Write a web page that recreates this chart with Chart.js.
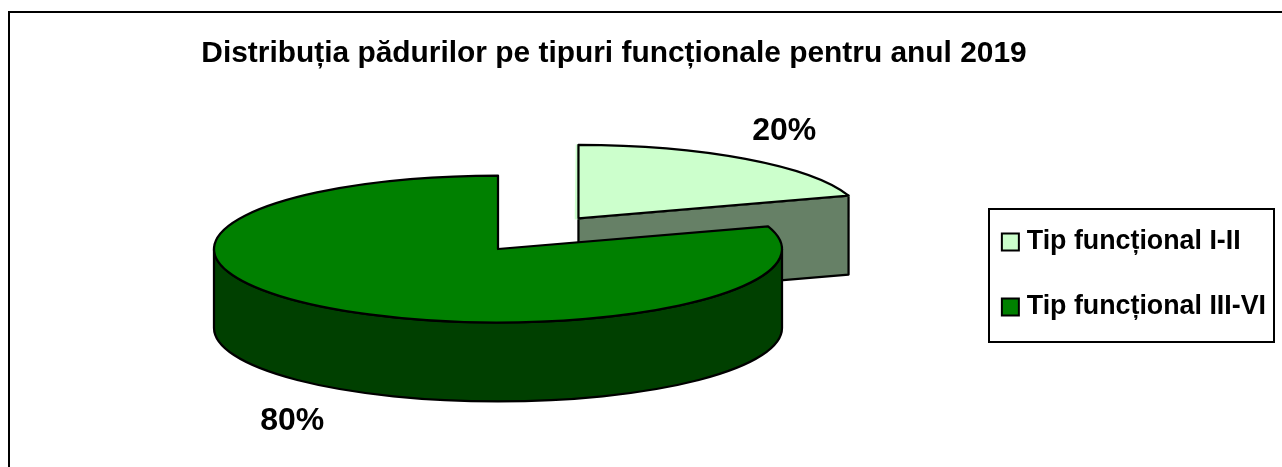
<!DOCTYPE html>
<html lang="ro">
<head>
<meta charset="utf-8">
<style>html,body{margin:0;padding:0;background:#fff}#w{position:relative;width:1282px;height:467px;overflow:hidden}</style>
<script src="https://cdn.jsdelivr.net/npm/chart.js@4/dist/chart.umd.min.js"></script>
</head>
<body>
<div id="w"><canvas id="c"></canvas></div>
<script>
const categories = ['Tip funcțional I-II', 'Tip funcțional III-VI'];
const shares = [20, 80];
const titleText = 'Distribuția pădurilor pe tipuri funcționale pentru anul 2019';

const topColors = ['#CCFFCC', '#008000'];
const wallColors = ['#668066', '#004000'];
const FONT = '"Liberation Sans", Arial, sans-serif';

const pieCentre = {x: 498, y: 249};
const squash = 0.2588;
const depth = 79;
const radiusPx = 284;
const explode = 522;
const explodeLift = 8;
const labelReach = {x: 1.233, y: 1.52};
const labelDrop = 3;
const outline = 2.25;
const legendFrame = {x: 989, y: 209, w: 285, h: 133};

function geometry(chart, arc) {
  const p = arc.getProps(['x', 'y', 'startAngle', 'endAngle', 'outerRadius', 'circumference']);
  const half = (p.startAngle + p.endAngle) / 2;
  const off = (arc.options.offset || 0) / 4;
  const fix = 1 - Math.sin(Math.min(Math.PI, p.circumference));
  const d = off * (1 + fix);
  const area = chart.chartArea;
  const x0 = (area.left + area.right) / 2, y0 = (area.top + area.bottom) / 2;
  return {
    cx: pieCentre.x + p.x - x0 + Math.cos(half) * d,
    cy: pieCentre.y + (p.y - y0 + Math.sin(half) * d) * squash,
    rx: p.outerRadius,
    ry: p.outerRadius * squash,
    a0: p.startAngle, a1: p.endAngle, half
  };
}

const pie3d = {
  id: 'pie3d',
  beforeDraw(chart) {
    const c = chart.ctx;
    c.save();
    c.fillStyle = '#fff';
    c.fillRect(0, 0, chart.width, chart.height);
    c.strokeStyle = '#000';
    c.lineWidth = 2;
    c.strokeRect(9, 12, chart.width + 40, chart.height + 40);
    c.strokeRect(legendFrame.x, legendFrame.y, legendFrame.w, legendFrame.h);
    c.restore();
  },
  afterLayout(chart) {
    const t = chart.titleBlock;
    t.left = 114; t.right = 1114;
    const h = t.bottom - t.top;
    t.top = 54 - h / 2; t.bottom = t.top + h;
    const l = chart.legend;
    const w = l.width, lh = l.height;
    l.left = 969.17; l.right = l.left + w;
    l.top = 190.33; l.bottom = l.top + lh + 60;
  },
  afterDatasetsUpdate(chart) {
    chart.getDatasetMeta(0).data[0].y -= explodeLift;
  },
  beforeDatasetsDraw(chart) {
    const c = chart.ctx;
    const arcs = chart.getDatasetMeta(0).data;
    c.save();
    c.lineWidth = outline;
    c.strokeStyle = '#000';
    c.lineJoin = 'round';
    arcs.forEach((arc, i) => {
      const g = geometry(chart, arc);
      c.fillStyle = wallColors[i];
      // radial face that turns toward the viewer
      if (Math.cos(g.a1) > 1e-6) {
        const ex = g.cx + g.rx * Math.cos(g.a1), ey = g.cy + g.ry * Math.sin(g.a1);
        c.beginPath();
        c.moveTo(g.cx, g.cy); c.lineTo(ex, ey); c.lineTo(ex, ey + depth); c.lineTo(g.cx, g.cy + depth);
        c.closePath(); c.fill(); c.stroke();
      }
      // outer rim, front half only
      const from = Math.max(g.a0, 0), to = Math.min(g.a1, Math.PI);
      if (to > from) {
        c.beginPath();
        c.ellipse(g.cx, g.cy, g.rx, g.ry, 0, from, to);
        c.ellipse(g.cx, g.cy + depth, g.rx, g.ry, 0, to, from, true);
        c.closePath(); c.fill(); c.stroke();
      }
    });
    c.restore();
    // squash the library's own arcs
    const area = chart.chartArea;
    const x0 = (area.left + area.right) / 2, y0 = (area.top + area.bottom) / 2;
    c.save();
    c.translate(pieCentre.x - x0, pieCentre.y);
    c.scale(1, squash);
    c.translate(0, -y0);
  },
  afterDatasetsDraw(chart) {
    const c = chart.ctx;
    c.restore();
    const arcs = chart.getDatasetMeta(0).data;
    c.save();
    c.lineWidth = outline;
    c.strokeStyle = '#000';
    c.lineJoin = 'round';
    arcs.forEach((arc) => {
      const g = geometry(chart, arc);
      c.beginPath();
      c.moveTo(g.cx, g.cy);
      c.ellipse(g.cx, g.cy, g.rx, g.ry, 0, g.a0, g.a1);
      c.closePath();
      c.stroke();
    });
    c.fillStyle = '#000';
    c.font = 'bold 32px ' + FONT;
    c.textAlign = 'center';
    c.textBaseline = 'middle';
    const total = shares.reduce((a, b) => a + b, 0);
    arcs.forEach((arc, i) => {
      const g = geometry(chart, arc);
      const lx = g.cx + Math.cos(g.half) * g.rx * labelReach.x;
      const ly = g.cy + Math.sin(g.half) * g.ry * labelReach.y + (Math.sin(g.half) > 0 ? depth : 0) + labelDrop;
      c.fillText(Math.round(shares[i] / total * 100) + '%', lx, ly);
    });
    c.restore();
  }
};

new Chart(document.getElementById('c'), {
  type: 'pie',
  data: {
    labels: categories,
    datasets: [{
      data: shares,
      backgroundColor: topColors,
      borderWidth: 0,
      offset: [explode, 0],
      clip: false
    }]
  },
  options: {
    responsive: true,
    maintainAspectRatio: false,
    animation: false,
    events: [],
    cutout: '0%',
    radius: radiusPx,
    rotation: 0,
    plugins: {
      tooltip: {enabled: false},
      title: {
        display: true,
        text: titleText,
        color: '#000',
        padding: 0,
        font: {family: FONT, size: 29.9, weight: 'bold'}
      },
      legend: {
        display: true,
        position: 'chartArea',
        align: 'start',
        labels: {
          color: '#000',
          font: {family: FONT, size: 26.8, weight: 'bold'},
          usePointStyle: true,
          boxWidth: 6,
          boxHeight: 17,
          padding: 38.2,
          generateLabels: () => categories.map((text, i) => ({
            text,
            fillStyle: topColors[i],
            strokeStyle: '#000',
            lineWidth: 2,
            pointStyle: 'rect',
            hidden: false,
            index: i
          }))
        }
      }
    }
  },
  plugins: [pie3d]
});
</script>
</body>
</html>
